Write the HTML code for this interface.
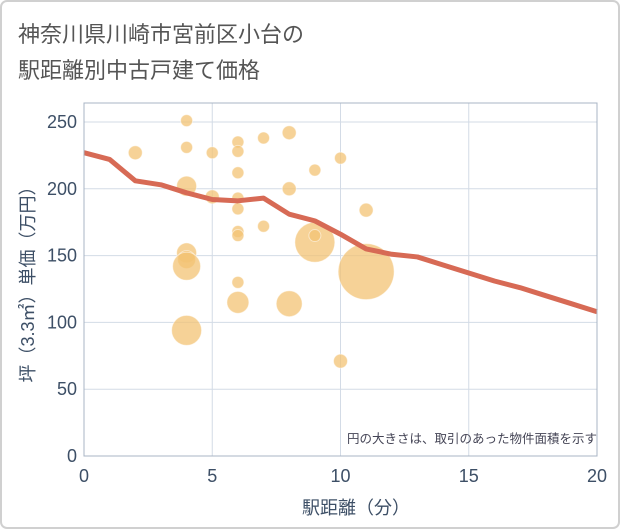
<!DOCTYPE html>
<html><head><meta charset="utf-8">
<style>
html,body{margin:0;padding:0;background:#fff;}
svg{display:block;font-family:"Liberation Sans","Noto Sans CJK JP",sans-serif;}
</style></head>
<body>
<svg id="chart" width="621" height="530" viewBox="0 0 621 530">
<rect x="1" y="1" width="618" height="527" rx="6" fill="#fff" stroke="#d0d0d0" stroke-width="2"/>
<text x="18" y="42" font-size="22" fill="#555">神奈川県川崎市宮前区小台の</text>
<text x="18" y="78" font-size="22" fill="#555">駅距離別中古戸建て価格</text>
<g id="grid"></g>
<g id="bubbles"></g>
<g id="line"></g>
<rect x="84" y="103" width="513" height="353" fill="none" stroke="#a8b4c4" stroke-width="1"/>
<g id="ticks"></g>
<text x="597" y="443" font-size="12.5" fill="#445" text-anchor="end">円の大きさは、取引のあった物件面積を示す</text>
<text x="356" y="514" font-size="18" fill="#3d4f66" text-anchor="middle">駅距離（分）</text>
<text transform="translate(34,280) rotate(-90)" font-size="18" fill="#3d4f66" text-anchor="middle">坪（3.3㎡）単価（万円）</text>
</svg>
<script>
const xTicks=[0,5,10,15,20];
const yTicks=[0,50,100,150,200,250];
const bubbleX=[2,4,4,4,5,5,6,6,6,6,6,6,6,4,4,4,6,6,4,7,7,8,8,8,9,9,9,10,10,11,11];
const bubbleY=[227,251,231,202,227,194,235,228,212,193,185,168,165,152,147,142,130,115,94,238,172,242,200,114,214,160,165,223,71,184,138];
const bubbleR=[7,6,6,10,6,7,6,6,6,6,6,6,6,10,9,14,6,11,15,6,6,7,7,13,6,20,6,6,7,7,28];
const lineX=[0,1,2,3,4,5,6,7,8,9,10,11,12,13,14,15,16,17,18,19,20];
const lineY=[227,222,206,203,197,192,191,193,181,176,166,155,151,149,143,137,131,126,120,114,108];
const NS="http://www.w3.org/2000/svg";
const X=v=>84+v*(513/20);
const Y=v=>456-v*(334/250);
const grid=document.getElementById('grid'),ticks=document.getElementById('ticks');
xTicks.forEach(t=>{
 const l=document.createElementNS(NS,'line');
 l.setAttribute('x1',X(t));l.setAttribute('x2',X(t));l.setAttribute('y1',103);l.setAttribute('y2',456);
 l.setAttribute('stroke','#d3dbe6');l.setAttribute('stroke-width','1');
 
 
 grid.appendChild(l);
 const tx=document.createElementNS(NS,'text');
 tx.setAttribute('x',X(t));tx.setAttribute('y',482);tx.setAttribute('font-size','18');tx.setAttribute('fill','#3d4f66');tx.setAttribute('text-anchor','middle');
 tx.textContent=t;
 
 
 ticks.appendChild(tx);
});
yTicks.forEach(t=>{
 const l=document.createElementNS(NS,'line');
 l.setAttribute('x1',84);l.setAttribute('x2',597);l.setAttribute('y1',Y(t));l.setAttribute('y2',Y(t));
 l.setAttribute('stroke','#d3dbe6');l.setAttribute('stroke-width','1');
 
 
 grid.appendChild(l);
 const tx=document.createElementNS(NS,'text');
 tx.setAttribute('x',77);tx.setAttribute('y',Y(t)+6);tx.setAttribute('font-size','18');tx.setAttribute('fill','#3d4f66');tx.setAttribute('text-anchor','end');
 tx.textContent=t;
 
 
 ticks.appendChild(tx);
});
const bg=document.getElementById('bubbles');
bubbleX.forEach((v,i)=>{
 const c=document.createElementNS(NS,'circle');
 c.setAttribute('cx',X(v));c.setAttribute('cy',Y(bubbleY[i]));c.setAttribute('r',bubbleR[i]);
 c.setAttribute('fill','#f3c374');c.setAttribute('fill-opacity','0.75');c.setAttribute('stroke','#fff');c.setAttribute('stroke-opacity','0.5');
 
 
 bg.appendChild(c);
});
const p=document.createElementNS(NS,'polyline');
p.setAttribute('points',lineX.map((v,i)=>X(v)+','+Y(lineY[i])).join(' '));
p.setAttribute('fill','none');p.setAttribute('stroke','#d76a55');p.setAttribute('stroke-width','5');p.setAttribute('stroke-linejoin','round');


document.getElementById('line').appendChild(p);
</script>
</body></html>
